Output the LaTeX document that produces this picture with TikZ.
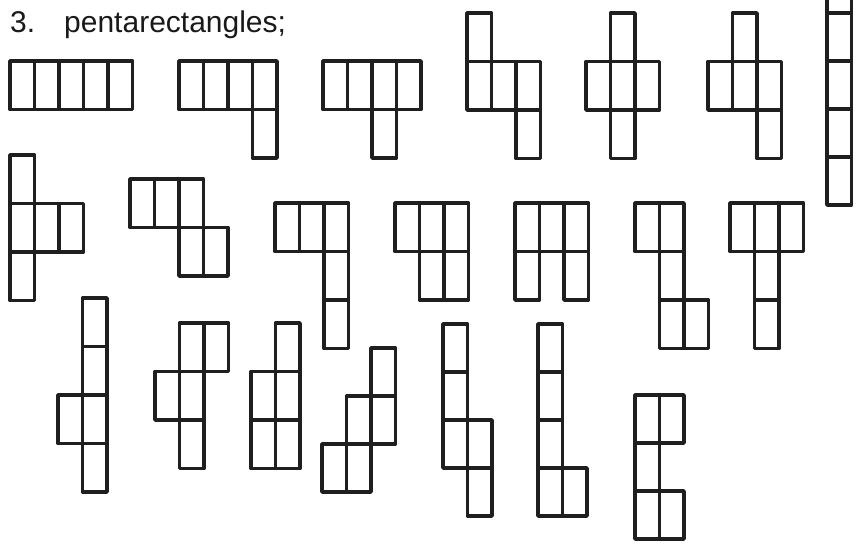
\documentclass[tikz,border=0pt]{standalone}
\usepackage{fontspec}
\setmainfont{Liberation Sans}

\begin{document}
\begin{tikzpicture}[x=1pt, y=-1pt,
		cell/.style={line width=3.8pt, line join=round, color=black!88},
		caption/.style={inner sep=0pt, anchor=base west, font=\fontsize{30}{36}\selectfont, text=black!90}]
		% Page frame
		\useasboundingbox (0,0) rectangle (858,543);
		\clip (0,0) rectangle (858,543);
		
		% Heading
		\node[caption] (num) at (10,33) {3.};
		\node[caption] (title) at (64,33) {pentarectangles;};
		
		% First row
		\begin{scope}[shift={(10,61)}]
			\foreach \c/\r in {0/0,1/0,2/0,3/0,4/0} \draw[cell] (\c*24.5,\r*48.5) rectangle ++(24.5,48.5);
		\end{scope}
		\begin{scope}[shift={(179,61)}]
			\foreach \c/\r in {0/0,1/0,2/0,3/0,3/1} \draw[cell] (\c*24.5,\r*48.5) rectangle ++(24.5,48.5);
		\end{scope}
		\begin{scope}[shift={(323,61)}]
			\foreach \c/\r in {0/0,1/0,2/0,3/0,2/1} \draw[cell] (\c*24.5,\r*48.5) rectangle ++(24.5,48.5);
		\end{scope}
		\begin{scope}[shift={(467,13)}]
			\foreach \c/\r in {0/0,0/1,1/1,2/1,2/2} \draw[cell] (\c*24.5,\r*48.5) rectangle ++(24.5,48.5);
		\end{scope}
		\begin{scope}[shift={(586,13)}]
			\foreach \c/\r in {1/0,0/1,1/1,2/1,1/2} \draw[cell] (\c*24.5,\r*48.5) rectangle ++(24.5,48.5);
		\end{scope}
		\begin{scope}[shift={(708,13)}]
			\foreach \c/\r in {1/0,0/1,1/1,2/1,2/2} \draw[cell] (\c*24.5,\r*48.5) rectangle ++(24.5,48.5);
		\end{scope}
		\begin{scope}[shift={(827,-35)}]
			\foreach \c/\r in {0/0,0/1,0/2,0/3,0/4} \draw[cell] (\c*24.5,\r*48) rectangle ++(24.5,48);
		\end{scope}
		
		% Second row
		\begin{scope}[shift={(10,155)}]
			\foreach \c/\r in {0/0,0/1,1/1,2/1,0/2} \draw[cell] (\c*24.5,\r*48.5) rectangle ++(24.5,48.5);
		\end{scope}
		\begin{scope}[shift={(130,179)}]
			\foreach \c/\r in {0/0,1/0,2/0,2/1,3/1} \draw[cell] (\c*24.5,\r*48.5) rectangle ++(24.5,48.5);
		\end{scope}
		\begin{scope}[shift={(275,203)}]
			\foreach \c/\r in {0/0,1/0,2/0,2/1,2/2} \draw[cell] (\c*24.5,\r*48.5) rectangle ++(24.5,48.5);
		\end{scope}
		\begin{scope}[shift={(395,203)}]
			\foreach \c/\r in {0/0,1/0,2/0,1/1,2/1} \draw[cell] (\c*24.5,\r*48.5) rectangle ++(24.5,48.5);
		\end{scope}
		\begin{scope}[shift={(515,203)}]
			\foreach \c/\r in {0/0,1/0,2/0,0/1,2/1} \draw[cell] (\c*24.5,\r*48.5) rectangle ++(24.5,48.5);
		\end{scope}
		\begin{scope}[shift={(635,203)}]
			\foreach \c/\r in {0/0,1/0,1/1,1/2,2/2} \draw[cell] (\c*24.5,\r*48.5) rectangle ++(24.5,48.5);
		\end{scope}
		\begin{scope}[shift={(730,203)}]
			\foreach \c/\r in {0/0,1/0,2/0,1/1,1/2} \draw[cell] (\c*24.5,\r*48.5) rectangle ++(24.5,48.5);
		\end{scope}
		
		% Third row
		\begin{scope}[shift={(58,298)}]
			\foreach \c/\r in {1/0,1/1,0/2,1/2,1/3} \draw[cell] (\c*24.5,\r*48.5) rectangle ++(24.5,48.5);
		\end{scope}
		\begin{scope}[shift={(155,323)}]
			\foreach \c/\r in {1/0,2/0,0/1,1/1,1/2} \draw[cell] (\c*24.5,\r*48.5) rectangle ++(24.5,48.5);
		\end{scope}
		\begin{scope}[shift={(251,323)}]
			\foreach \c/\r in {1/0,0/1,1/1,0/2,1/2} \draw[cell] (\c*24.5,\r*48.5) rectangle ++(24.5,48.5);
		\end{scope}
		\begin{scope}[shift={(322,348)}]
			\foreach \c/\r in {2/0,1/1,2/1,0/2,1/2} \draw[cell] (\c*24.5,\r*48) rectangle ++(24.5,48);
		\end{scope}
		\begin{scope}[shift={(443,324)}]
			\foreach \c/\r in {0/0,0/1,0/2,1/2,1/3} \draw[cell] (\c*24.5,\r*48) rectangle ++(24.5,48);
		\end{scope}
		\begin{scope}[shift={(538,324)}]
			\foreach \c/\r in {0/0,0/1,0/2,0/3,1/3} \draw[cell] (\c*24.5,\r*48) rectangle ++(24.5,48);
		\end{scope}
		\begin{scope}[shift={(635,395)}]
			\foreach \c/\r in {0/0,1/0,0/1,0/2,1/2} \draw[cell] (\c*24.5,\r*48) rectangle ++(24.5,48);
		\end{scope}
	\end{tikzpicture}
\end{document}
